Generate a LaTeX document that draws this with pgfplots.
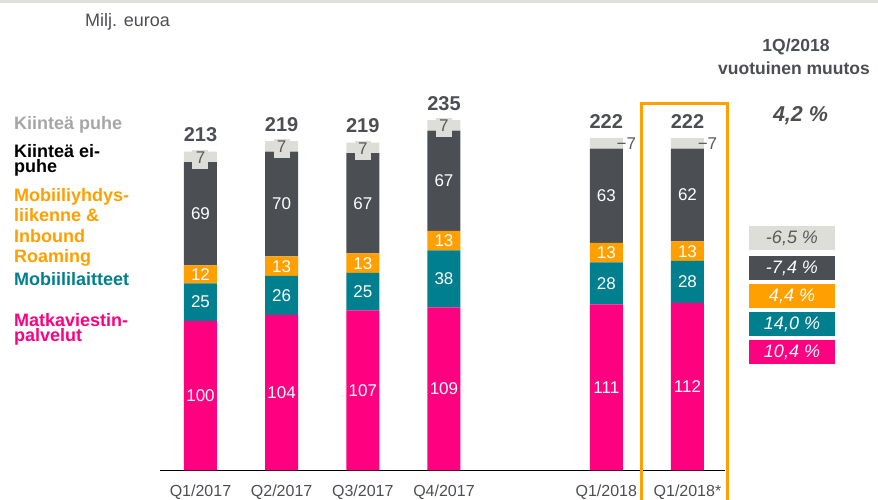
\documentclass[border=0pt]{standalone}
\usepackage{pgfplots}
\usepackage{pgfplotstable}
\pgfplotsset{compat=1.18}
\usepackage{fontspec}
\setmainfont{Liberation Sans}
\definecolor{cpink}{HTML}{FF0080}
\definecolor{cteal}{HTML}{00808F}
\definecolor{corange}{HTML}{FFA000}
\definecolor{cdark}{HTML}{4B4F54}
\definecolor{clight}{HTML}{DEDED9}
\definecolor{ctext}{HTML}{4B4F54}
\definecolor{clabel}{HTML}{595959}
\definecolor{clegray}{HTML}{A6A6A6}
\definecolor{cband}{HTML}{E0E0DA}

\pgfplotstableread{
x pink teal orange dark gray fo dx tot glab
0 100 25 12 69 7 1 0 213 7
1 104 26 13 70 7 1 0 219 7
2 107 25 13 67 7 1 0 219 7
3 109 38 13 67 7 1 0 235 7
5 111 28 13 63 7 0 20 222 −7
6 112 28 13 62 7 0 20 222 −7
}\data

\pgfplotsset{
  frame/.style={
    at={(159.9pt,29.5pt)}, anchor=south west,
    scale only axis, width=564.9pt, height=374.25pt,
    xmin=-0.5, xmax=6.46, ymin=0, ymax=250,
    enlargelimits=false, clip=false,
  },
  seglab/.style={
    draw=none, mark=none,
    point meta=explicit symbolic,
    nodes near coords,
    every node near coord/.append style={anchor=center, text=white, inner sep=0pt,
      font=\fontsize{17}{20}\selectfont},
  },
}

\begin{document}
\begin{tikzpicture}[x=1pt,y=1pt]
\path[use as bounding box] (0,0) rectangle (878,500);
\fill[cband] (0,497) rectangle (878,500);

% bars
\begin{axis}[
  frame,
  ybar stacked, bar width=33pt,
  axis x line*=bottom, axis y line=none,
  x axis line style={black, line width=1.2pt},
  xtick={0,1,2,3,5,6},
  xticklabels={Q1/2017,Q2/2017,Q3/2017,Q4/2017,Q1/2018,Q1/2018*},
  major tick length=0pt,
  xticklabel style={anchor=base, yshift=-26.5pt, text=ctext, font=\fontsize{16}{19}\selectfont},
]
\addplot[fill=cpink, draw=none] table[x=x,y=pink]{\data};
\addplot[fill=cteal, draw=none] table[x=x,y=teal]{\data};
\addplot[fill=corange, draw=none] table[x=x,y=orange]{\data};
\addplot[fill=cdark, draw=none] table[x=x,y=dark]{\data};
\addplot[fill=clight, draw=none] table[x=x,y=gray]{\data};
\end{axis}

% value labels
\begin{axis}[frame, hide axis]
\addplot[seglab] table[x=x, y expr=\thisrow{pink}/2, meta=pink]{\data};
\addplot[seglab] table[x=x, y expr=\thisrow{pink}+\thisrow{teal}/2, meta=teal]{\data};
\addplot[seglab] table[x=x, y expr=\thisrow{pink}+\thisrow{teal}+\thisrow{orange}/2, meta=orange]{\data};
\addplot[seglab] table[x=x, y expr=\thisrow{pink}+\thisrow{teal}+\thisrow{orange}+\thisrow{dark}/2, meta=dark]{\data};
\addplot[draw=none, mark=none,
  point meta=explicit symbolic,
  visualization depends on={\thisrow{dx} \as \gdx},
  visualization depends on={\thisrow{fo} \as \gfo},
  nodes near coords,
  every node near coord/.append style={anchor=center, xshift=\gdx pt, yshift=-2.5pt,
    fill=clight, fill opacity=\gfo, text opacity=1, text=clabel,
    minimum width=16pt, minimum height=19pt, inner sep=0pt, text depth=4pt,
    font=\fontsize{17}{20}\selectfont}]
  table[x=x, y expr=\thisrow{pink}+\thisrow{teal}+\thisrow{orange}+\thisrow{dark}+\thisrow{gray}/2, meta=glab]{\data};
\addplot[draw=none, mark=none,
  point meta=explicit symbolic,
  nodes near coords,
  every node near coord/.append style={anchor=base, yshift=10pt, inner sep=0pt, text=ctext,
    font=\bfseries\fontsize{20}{24}\selectfont}]
  table[x=x, y expr=\thisrow{pink}+\thisrow{teal}+\thisrow{orange}+\thisrow{dark}+\thisrow{gray}, meta=tot]{\data};
\end{axis}

% highlight frame around Q1/2018*
\draw[corange, line width=3pt, line join=miter] (641,-3) -- (641,396.5) -- (727,396.5) -- (727,-3);

% unit label
\node[anchor=base west, inner sep=0pt, text=ctext, font=\fontsize{18}{21}\selectfont] at (85,473.3) {Milj. euroa};

% category legend
\begin{scope}[every node/.style={anchor=base west, inner sep=0pt, font=\bfseries\fontsize{18}{21}\selectfont}]
\node[text=clegray] at (14,370.5) {Kiinteä puhe};
\node[text=black] at (14,342.5) {Kiinteä ei-};
\node[text=black] at (14,327) {puhe};
\node[text=corange] at (14,298.5) {Mobiiliyhdys-};
\node[text=corange] at (14,278) {liikenne \&};
\node[text=corange] at (14,257.5) {Inbound};
\node[text=corange] at (14,237.5) {Roaming};
\node[text=cteal] at (14,214) {Mobiililaitteet};
\node[text=cpink] at (14,173.5) {Matkaviestin-};
\node[text=cpink] at (14,158.5) {palvelut};
\end{scope}

% right panel
\node[anchor=base, inner sep=0pt, text=ctext, font=\bfseries\fontsize{17.5}{21}\selectfont] at (796,448.3) {1Q/2018};
\node[anchor=base, inner sep=0pt, text=ctext, font=\bfseries\fontsize{17.5}{21}\selectfont] at (794,425) {vuotuinen muutos};
\node[anchor=base, inner sep=0pt, text=ctext, font=\bfseries\itshape\fontsize{21.5}{25}\selectfont] at (800.5,378.3) {4,2 \%};

\begin{scope}[every node/.style={minimum width=86pt, minimum height=24pt, inner sep=0pt, font=\itshape\fontsize{18}{21}\selectfont}]
\node[fill=clight, text=clabel] at (792,262) {-6,5 \%};
\node[fill=cdark, text=white] at (792,232) {-7,4 \%};
\node[fill=corange, text=white] at (792,203.5) {4,4 \%};
\node[fill=cteal, text=white] at (792,175.5) {14,0 \%};
\node[fill=cpink, text=white] at (792,147.5) {10,4 \%};
\end{scope}
\end{tikzpicture}
\end{document}
